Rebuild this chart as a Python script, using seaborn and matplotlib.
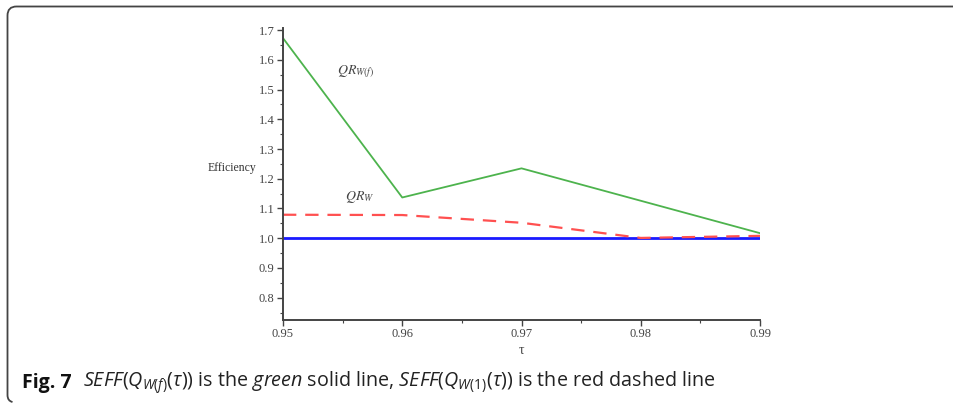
import matplotlib
matplotlib.use("Agg")
import matplotlib.pyplot as plt
from matplotlib.path import Path
from matplotlib.patches import PathPatch
from matplotlib.ticker import MultipleLocator
import pandas as pd
import seaborn as sns

# Efficiency values by quantile level tau
tau = [0.95, 0.96, 0.97, 0.98, 0.99]
eff_qr_w = [1.079, 1.078, 1.052, 1.001, 1.008]
eff_base = [1.0, 1.0, 1.0, 1.0, 1.0]

# green curve: straight segment between 0.97 and 0.99
tau_green = [0.95, 0.96, 0.97, 0.99]
eff_green = [1.673, 1.137, 1.235, 1.017]

x_ticks = [0.95, 0.96, 0.97, 0.98, 0.99]
y_ticks = [0.8, 0.9, 1.0, 1.1, 1.2, 1.3, 1.4, 1.5, 1.6, 1.7]

sns.set_theme(style="white")
plt.rcParams["font.family"] = ["Liberation Serif", "DejaVu Serif"]
plt.rcParams["mathtext.fontset"] = "custom"
plt.rcParams["mathtext.rm"] = "Open Sans"
plt.rcParams["mathtext.it"] = "Open Sans:italic"
plt.rcParams["mathtext.bf"] = "Open Sans:bold"

W, H = 954, 407
fig = plt.figure(figsize=(W / 100, H / 100), dpi=100)
ax = fig.add_axes([283 / W, 1 - 320 / H, (760 - 283) / W, (320 - 28) / H])

df_g = pd.DataFrame({"tau": tau_green, "eff": eff_green})
df_r = pd.DataFrame({"tau": tau, "eff": eff_qr_w})
df_b = pd.DataFrame({"tau": tau, "eff": eff_base})

sns.lineplot(data=df_b, x="tau", y="eff", ax=ax, color="#1a1aff", lw=2.0)
sns.lineplot(data=df_r, x="tau", y="eff", ax=ax, color="#ff5050", lw=1.6,
             linestyle=(0, (6, 4)))
sns.lineplot(data=df_g, x="tau", y="eff", ax=ax, color="#4db34d", lw=1.3)

ax.set_xlim(0.95, 0.99)
ax.set_ylim(0.725, 1.707)
ax.set_xticks(x_ticks)
ax.set_xticklabels([f"{v:.2f}" for v in x_ticks])
ax.set_yticks(y_ticks)
ax.set_yticklabels([f"{v:.1f}" for v in y_ticks])
ax.xaxis.set_minor_locator(MultipleLocator(0.005))
ax.yaxis.set_minor_locator(MultipleLocator(0.05))
ax.tick_params(axis="both", which="major", direction="out", length=4, width=1.0,
               color="#444444", labelsize=9, labelcolor="#444444", pad=2,
               bottom=True, left=True)
ax.tick_params(axis="both", which="minor", direction="out", length=2, width=0.8,
               color="#444444", bottom=True, left=True)

for side in ["top", "right"]:
    ax.spines[side].set_visible(False)
for side in ["left", "bottom"]:
    ax.spines[side].set_color("#444444")
    ax.spines[side].set_linewidth(1.4)

ax.set_xlabel("τ", fontsize=10, color="#444444", labelpad=3)
ax.set_ylabel("")
ax.text(-0.055, 0.52, "Efficiency", transform=ax.transAxes, ha="right", va="center",
        fontsize=8.5, color="#333333")

# series labels
ax.text(0.9545, 1.559, r"$QR_{W(f)}$", fontsize=10, color="#444444",
        math_fontfamily="stix", va="center")
ax.text(0.9552, 1.138, r"$QR_{W}$", fontsize=10, color="#444444",
        math_fontfamily="stix", va="center")

# rounded frame around the figure (top and left edges)
x0, y0 = 7.5, 6.5
r = 9
y_end = 401
verts = [(W + 5, y0), (x0 + r, y0), (x0, y0), (x0, y0 + r), (x0, y_end - 6),
         (x0, y_end), (x0 + 5, y_end + 1)]
codes = [Path.MOVETO, Path.LINETO, Path.CURVE3, Path.CURVE3, Path.LINETO,
         Path.CURVE3, Path.CURVE3]
verts_fig = [(vx / W, 1 - vy / H) for vx, vy in verts]
frame = PathPatch(Path(verts_fig, codes), transform=fig.transFigure, fill=False,
                  edgecolor="#444444", lw=1.3)
fig.patches.append(frame)

# caption
cap_y = 1 - 383 / H
fig.text(22 / W, cap_y, "Fig. 7", fontsize=14, fontweight="bold",
         fontfamily="Open Sans", va="center", color="#111111")
rest = (r"$\mathit{SEFF}(Q_{W(f)}(\tau))$ is the $\mathit{green}$ solid line, "
        r"$\mathit{SEFF}(Q_{W(1)}(\tau))$ is the red dashed line")
fig.text(83 / W, cap_y, rest, fontsize=14.2, fontfamily="Open Sans",
         va="center", color="#222222")

fig.savefig("out.png", dpi=100)
